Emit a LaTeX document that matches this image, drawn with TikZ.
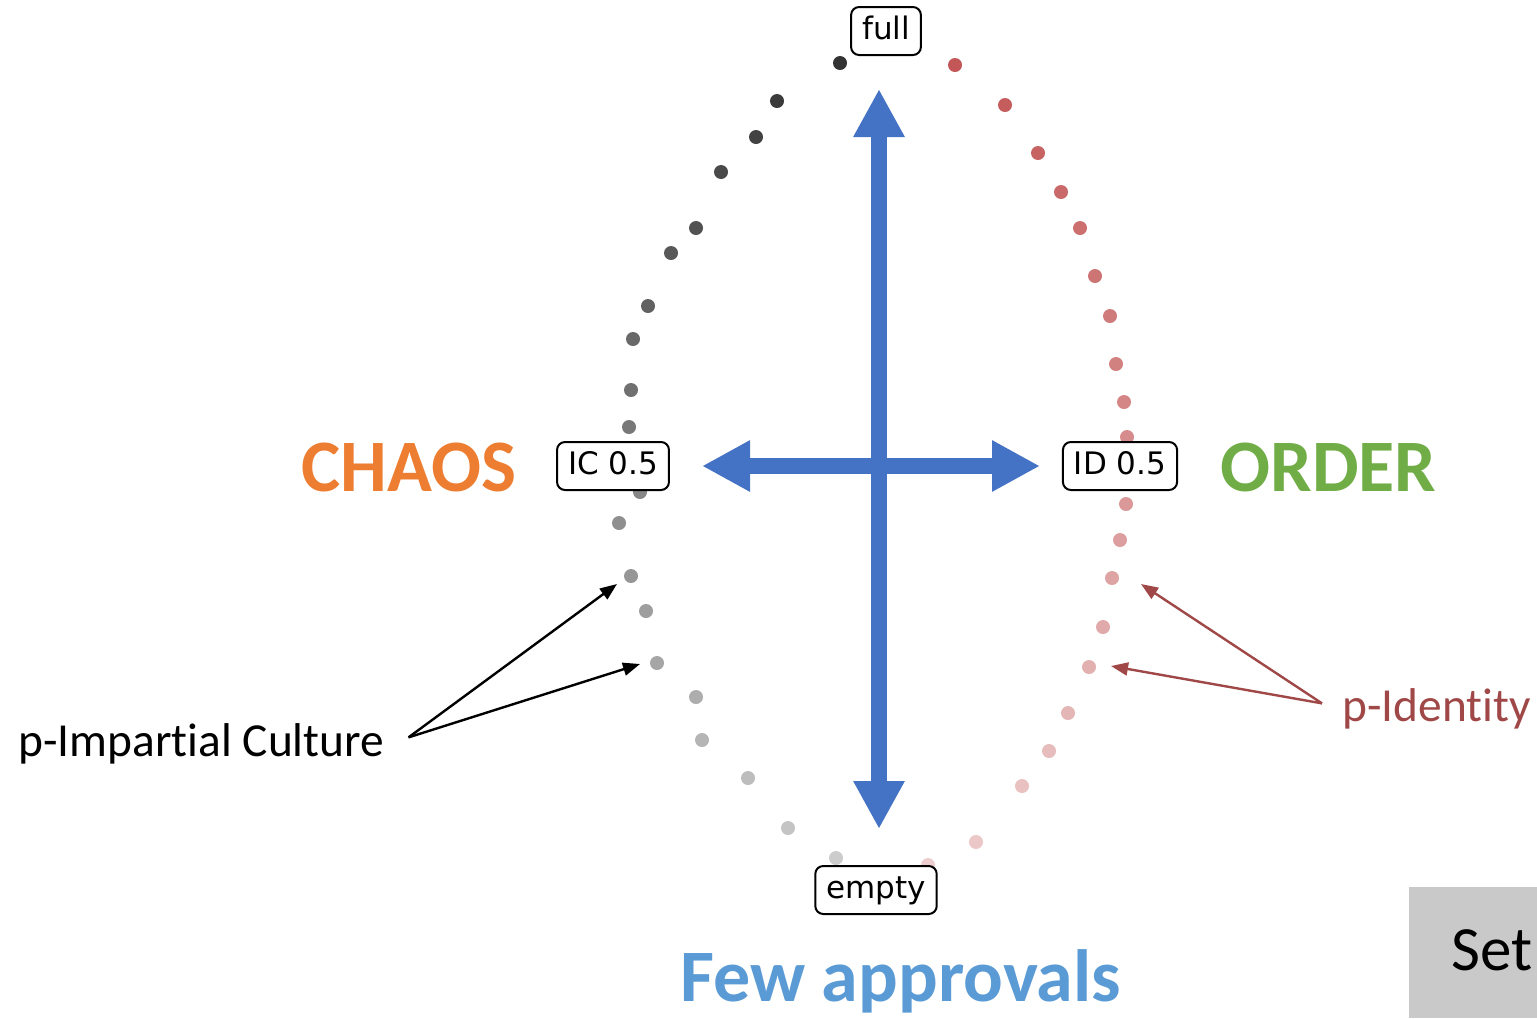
\documentclass[tikz,border=0pt]{standalone}
\usepackage{fontspec}
\setmainfont{Carlito}[RawFeature={-liga;-clig;-dlig;-calt}]
\newfontfamily\dejavu{DejaVu Sans}
\usepackage{xcolor}
\usetikzlibrary{arrows.meta}

\definecolor{axisblue}{HTML}{4472C4}
\definecolor{chaosorange}{HTML}{ED7D31}
\definecolor{ordergreen}{HTML}{70AD47}
\definecolor{fewblue}{HTML}{5B9BD5}
\definecolor{idred}{RGB}{160,72,72}
\definecolor{dotred}{RGB}{178,40,40}
\definecolor{setgray}{RGB}{201,201,201}

\tikzset{
    tag/.style={draw, fill=white, rounded corners=4pt, line width=1pt,
        inner xsep=5.5pt, inner ysep=4.25pt, text height=12pt, text depth=3.5pt,
        font=\dejavu\fontsize{15.5}{18}\selectfont},
    bigword/.style={inner sep=0pt, anchor=base west, font=\bfseries\fontsize{37}{42}\selectfont},
    note/.style={inner ysep=0pt, anchor=base west, font=\fontsize{23.7}{28}\selectfont},
    bigarrow/.style={axisblue, line width=8pt,
        {Triangle[length=24pt,width=24pt]}-{Triangle[length=24pt,width=24pt]}},
    pointer/.style={line width=1.2pt, -{Triangle[length=8.5pt,width=6.5pt]}},
}

\begin{document}
\begin{tikzpicture}[x=0.5pt, y=-0.5pt]
    \useasboundingbox (0,0) rectangle (1537,1018);

    % Left branch of dots, fading downwards
    \foreach \px/\py [count=\i] in {840/63, 777/101, 756/137, 721/172, 696/228, 671/253,
            648/306, 633/339, 631/390, 629/427, 634/458, 640/492, 619/523, 631/576,
            646/611, 657/663, 696/697, 702/740, 748/778, 788/828, 836/858}{
        \pgfmathsetmacro\op{0.8-0.6*(\i-1)/20}
        \fill[black, opacity=\op] (\px,\py) circle[radius=3.5pt];
    }
    % Right branch of dots
    \foreach \px/\py [count=\i] in {955/65, 1005/105, 1038/153, 1061/192, 1080/228, 1095/276,
            1110/316, 1116/364, 1124/402, 1127/437, 1128/470, 1126/504, 1120/540, 1112/578,
            1103/627, 1089/667, 1068/713, 1049/751, 1022/786, 976/842, 928/865}{
        \pgfmathsetmacro\op{0.78-0.55*(\i-1)/20}
        \fill[dotred, opacity=\op] (\px,\py) circle[radius=3.5pt];
    }

    % Axes
    \coordinate (up) at (879,89);
    \coordinate (down) at (879,829);
    \coordinate (lft) at (702,466);
    \coordinate (rgt) at (1040,466);
    \draw[bigarrow] (down) -- (up);
    \draw[bigarrow] (lft) -- (rgt);

    % Boxed labels
    \node[tag] (full) at (886,31) {full};
    \node[tag] (empty) at (876,890) {empty};
    \node[tag] (ic) at (613,466) {IC 0.5};
    \node[tag] (id) at (1120,466) {ID 0.5};

    \node[bigword, chaosorange] (chaos) at (301,491) {CHAOS};
    \node[bigword, ordergreen] (order) at (1220,491) {ORDER};
    \node[bigword, fewblue] (few) at (680,1001) {Few approvals};

    % Pointers to the two families (kern keeps t and i apart)
    \node[note, inner xsep=12pt] (ipc) at (-6,756) {p-Impart\kern0pt ial Culture};
    \coordinate (ipc1) at (617,584);
    \coordinate (ipc2) at (640,664);
    \draw[pointer] ([yshift=3pt]ipc.east) -- (ipc1);
    \draw[pointer] ([yshift=3pt]ipc.east) -- (ipc2);

    \node[note, idred, inner xsep=10pt] (pid) at (1322,721) {p-Ident\kern0pt ity};
    \coordinate (pid1) at (1141,584);
    \coordinate (pid2) at (1111,666);
    \draw[pointer, idred] ([yshift=2.5pt]pid.west) -- (pid1);
    \draw[pointer, idred] ([yshift=2.5pt]pid.west) -- (pid2);

    % Corner box
    \fill[setgray] (1409,887) rectangle (1537,1018);
    \node[inner sep=0pt, anchor=base west, font=\fontsize{31.5}{36}\selectfont] (set) at (1451,970) {Set};
\end{tikzpicture}
\end{document}
